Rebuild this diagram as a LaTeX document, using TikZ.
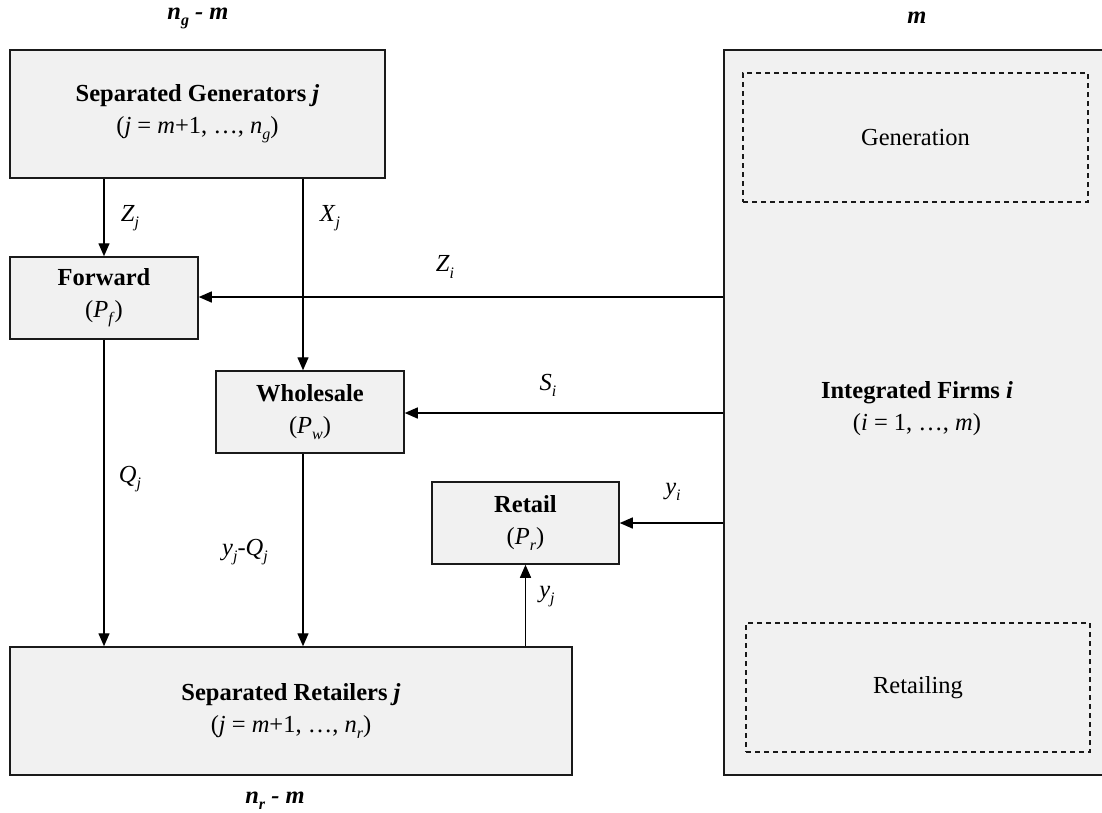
\documentclass[tikz,border=0pt]{standalone}
\usepackage{fontspec}
\setmainfont{Liberation Serif}
\usetikzlibrary{arrows.meta}
\definecolor{boxgray}{HTML}{F1F1F1}
\definecolor{edgecol}{HTML}{1A1A1A}
\newcommand{\mysub}[1]{\raisebox{-0.25em}{\fontsize{16}{16}\selectfont #1}}
\begin{document}
\begin{tikzpicture}[x=1pt,y=-1pt,
  font=\fontsize{24.5}{32}\selectfont,
  blk/.style={draw=edgecol,fill=boxgray,line width=1.5pt,align=center,inner sep=0pt},
  dbox/.style={draw=edgecol,line width=1.4pt,dash pattern=on 5pt off 4pt,align=center,inner sep=0pt},
  arr/.style={draw=black,line width=1.4pt,-{Triangle[length=13pt,width=11pt]}},
  lbl/.style={inner sep=0pt}]
\useasboundingbox (0,0) rectangle (1102,812);
\fill[white] (0,0) rectangle (1102,812);

% boxes
\node[blk,minimum width=375pt,minimum height=128pt] (gen) at (197.5,114)
  {\textbf{Separated Generators \textit{j}}\\(\textit{j} = \textit{m}+1, …, \textit{n}\mysub{\textit{g}})};
\node[blk,minimum width=188pt,minimum height=82pt] (fwd) at (104,298)
  {\textbf{Forward}\\(\textit{P}\mysub{\textit{f}})};
\node[blk,minimum width=188pt,minimum height=82pt] (whs) at (310,412)
  {\textbf{Wholesale}\\(\textit{P}\mysub{\textit{w}})};
\node[blk,minimum width=187pt,minimum height=82pt] (ret) at (525.5,523)
  {\textbf{Retail}\\(\textit{P}\mysub{\textit{r}})};
\node[blk,minimum width=562pt,minimum height=128pt] (rtl) at (291,711)
  {\textbf{Separated Retailers \textit{j}}\\(\textit{j} = \textit{m}+1, …, \textit{n}\mysub{\textit{r}})};
\node[blk,minimum width=400pt,minimum height=725pt] (int) at (924,412.5) {};
\node[lbl,align=center] (intlbl) at (917,409)
  {\textbf{Integrated Firms \textit{i}}\\(\textit{i} = 1, …, \textit{m})};
\node[dbox,minimum width=345pt,minimum height=129pt] (gend) at (915.5,137.5) {Generation};
\node[dbox,minimum width=344pt,minimum height=129pt] (retd) at (918,687.5) {Retailing};

% top / bottom labels
\node[lbl] (ngm) at (198,18) {\bfseries\itshape n\mysub{g} - m};
\node[lbl] (mm) at (917,18) {\bfseries\itshape m};
\node[lbl] (nrm) at (275,801) {\bfseries\itshape n\mysub{r} - m};

% connectors
\draw[arr] (gen.south -| fwd.north) -- (fwd.north);
\draw[arr] (gen.south -| 303,0) -- (whs.north -| 303,0);
\draw[arr] (int.west |- 0,297) -- (fwd.east |- 0,297);
\draw[arr] (int.west |- 0,413) -- (whs.east |- 0,413);
\draw[arr] (int.west |- ret.east) -- (ret.east);
\draw[arr] (fwd.south) -- (rtl.north -| fwd.south);
\draw[arr] (whs.south -| 303,0) -- (rtl.north -| 303,0);
\draw[arr] (rtl.north -| ret.south) -- (ret.south);

% connector labels
\node[lbl] (lzj) at (130,218) {\textit{Z}\mysub{\textit{j}}};
\node[lbl] (lxj) at (330,218) {\textit{X}\mysub{\textit{j}}};
\node[lbl] (lzi) at (445,267) {\textit{Z}\mysub{\textit{i}}};
\node[lbl] (lsi) at (548,385) {\textit{S}\mysub{\textit{i}}};
\node[lbl] (lyi) at (673,492) {\textit{y}\mysub{\textit{i}}};
\node[lbl] (lqj) at (130,479) {\textit{Q}\mysub{\textit{j}}};
\node[lbl] (lyq) at (245,552) {\textit{y}\mysub{\textit{j}}-\textit{Q}\mysub{\textit{j}}};
\node[lbl] (lyj) at (547,597) {\textit{y}\mysub{\textit{j}}};
\end{tikzpicture}
\end{document}
